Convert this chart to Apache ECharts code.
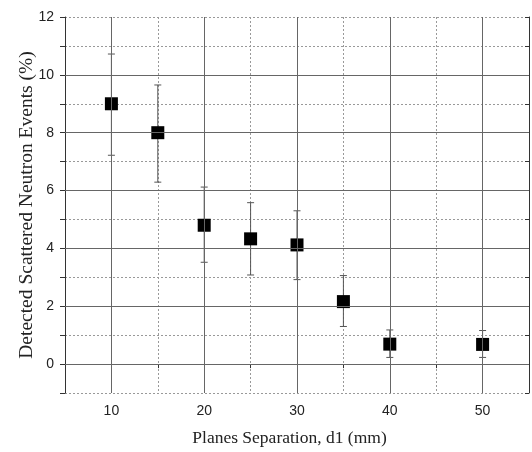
<!DOCTYPE html>
<html style="height: 100%">
<head>
    <meta charset="utf-8">
    <title>Detected Scattered Neutron Events</title>
    <script type="text/javascript" src="https://cdn.jsdelivr.net/npm/echarts@6/dist/echarts.min.js"></script>
</head>
<body style="height: 100%; margin: 0; background: #fff">
    <div id="container" style="width: 532px; height: 452px"></div>
    <script type="text/javascript">
        // 数据：平面间距 d1 (mm) 与散射中子事件 (%)
        var separation = [10, 15, 20, 25, 30, 35, 40, 50];
        var events = [9.0, 8.0, 4.8, 4.33, 4.12, 2.16, 0.69, 0.68];
        var errLow = [7.22, 6.29, 3.52, 3.08, 2.92, 1.3, 0.23, 0.23];
        var errHigh = [10.72, 9.65, 6.12, 5.58, 5.3, 3.06, 1.18, 1.16];

        // 主网格线（实线）
        var xMajor = [10, 20, 30, 40, 50];
        var yMajor = [0, 2, 4, 6, 8, 10];

        var points = separation.map(function (x, i) { return [x, events[i]]; });
        var bars = separation.map(function (x, i) { return [x, errLow[i], errHigh[i]]; });

        var gridLines = [];
        xMajor.forEach(function (v) { gridLines.push({ xAxis: v }); });
        yMajor.forEach(function (v) { gridLines.push({ yAxis: v }); });

        var dom = document.getElementById("container");
        var myChart = echarts.init(dom);

        var axisColor = '#333';
        var tickFont = { fontFamily: 'Liberation Sans', fontSize: 14, color: '#222' };

        var option = {
            animation: false,
            grid: {
                left: 65,
                right: 1,
                top: 17,
                bottom: 59
            },
            xAxis: [{
                type: 'value',
                min: 5,
                max: 55,
                interval: 5,
                name: 'Planes Separation, d1 (mm)',
                nameLocation: 'middle',
                nameGap: 36,
                nameMoveOverlap: false,
                nameTextStyle: { fontFamily: 'Liberation Serif', fontSize: 17.5, color: '#222', padding: [0, 15, 0, 0] },
                axisLine: { show: true, lineStyle: { color: axisColor, width: 1 } },
                axisTick: { show: true, inside: false, length: 4, lineStyle: { color: axisColor } },
                axisLabel: Object.assign({
                    margin: 11,
                    formatter: function (v) { return v % 10 === 0 && v > 5 && v < 55 ? v : ''; }
                }, tickFont),
                splitLine: { show: true, lineStyle: { color: '#999', type: [2, 2], width: 1 } }
            }, {
                type: 'value',
                position: 'top',
                min: 5,
                max: 55,
                interval: 5,
                axisLine: { show: true, lineStyle: { color: axisColor, width: 1 } },
                axisTick: { show: true, inside: true, length: 4, lineStyle: { color: axisColor } },
                axisLabel: { show: false },
                splitLine: { show: false }
            }],
            yAxis: [{
                type: 'value',
                min: -1,
                max: 12,
                interval: 1,
                name: 'Detected Scattered Neutron Events (%)',
                nameLocation: 'middle',
                nameGap: 28,
                nameMoveOverlap: false,
                nameTextStyle: { fontFamily: 'Liberation Serif', fontSize: 19.5, color: '#222' },
                axisLine: { show: true, lineStyle: { color: axisColor, width: 1 } },
                axisTick: { show: true, inside: false, length: 5, lineStyle: { color: axisColor } },
                axisLabel: Object.assign({
                    margin: 11,
                    formatter: function (v) { return v % 2 === 0 && v >= 0 ? v : ''; }
                }, tickFont),
                splitLine: { show: true, lineStyle: { color: '#999', type: [2, 2], width: 1 } }
            }, {
                type: 'value',
                position: 'right',
                min: -1,
                max: 12,
                interval: 1,
                axisLine: { show: true, lineStyle: { color: axisColor, width: 1 } },
                axisTick: { show: true, inside: true, length: 4, lineStyle: { color: axisColor } },
                axisLabel: { show: false },
                splitLine: { show: false }
            }],
            series: [
                {
                    // 实线主网格
                    type: 'line',
                    data: [],
                    z: 1,
                    silent: true,
                    markLine: {
                        silent: true,
                        symbol: 'none',
                        label: { show: false },
                        animation: false,
                        lineStyle: { color: '#666', type: 'solid', width: 1 },
                        data: gridLines
                    }
                },
                {
                    // 误差棒
                    type: 'custom',
                    z: 2,
                    data: bars,
                    renderItem: function (params, api) {
                        var x = api.value(0);
                        var lo = api.coord([x, api.value(1)]);
                        var hi = api.coord([x, api.value(2)]);
                        var cap = 3.5;
                        var style = { stroke: '#555', lineWidth: 1 };
                        return {
                            type: 'group',
                            children: [
                                { type: 'line', shape: { x1: lo[0], y1: lo[1], x2: hi[0], y2: hi[1] }, style: style },
                                { type: 'line', shape: { x1: hi[0] - cap, y1: hi[1], x2: hi[0] + cap, y2: hi[1] }, style: style },
                                { type: 'line', shape: { x1: lo[0] - cap, y1: lo[1], x2: lo[0] + cap, y2: lo[1] }, style: style }
                            ]
                        };
                    }
                },
                {
                    type: 'scatter',
                    z: 3,
                    symbol: 'rect',
                    symbolSize: 13,
                    itemStyle: { color: '#000', opacity: 1 },
                    data: points
                }
            ]
        };
        myChart.setOption(option, true);
    </script>
</body>
</html>
